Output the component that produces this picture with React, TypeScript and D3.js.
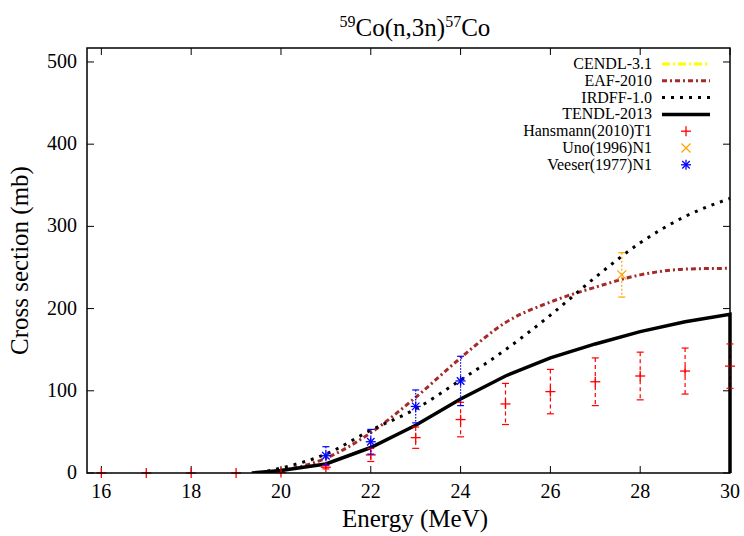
import { useEffect } from 'react';
import * as d3 from 'd3';

const WIDTH = 744;
const HEIGHT = 536;
const PLOT = { left: 87, right: 730, top: 48, bottom: 473 };

const xTicks = [16, 18, 20, 22, 24, 26, 28, 30];
const yTicks = [0, 100, 200, 300, 400, 500];

// evaluated libraries: [energy MeV, cross section mb]
const cendl: [number, number][] = [
  [19.35, 0], [19.6, 0.3], [19.8, 0.8], [20, 1.5],
];
const eaf: [number, number][] = [
  [19.4, 0], [20, 3], [21, 18], [22, 49], [23, 92], [24, 140], [25, 183],
  [26, 208], [27, 226], [28, 241], [29, 248], [30, 249],
];
const irdff: [number, number][] = [
  [19.5, 0], [20, 6], [21, 23], [22, 52], [23, 78], [24, 113], [25, 150],
  [26, 192], [27, 238], [28, 280], [29, 312], [30, 334],
];
const tendl: [number, number][] = [
  [19.35, 0], [20, 3], [21, 11], [22, 31], [23, 58], [24, 90], [25, 118],
  [26, 140], [27, 157], [28, 172], [29, 184], [30, 193], [30, 0],
];

// measurements
const hansE = [16, 17, 18, 19, 20, 21, 22, 23, 24, 25, 26, 27, 28, 29, 30];
const hansV = [0, 0, 0, 0, 0.5, 7, 22, 43, 65, 84, 99, 111, 118, 124, 130];
const hansErr = [0, 0, 0, 0, 0, 2, 8, 13, 21, 25, 27, 29, 29, 28, 27];

const unoE = [27.59];
const unoV = [241];
const unoErr = [27];

const veeserE = [21, 22, 23, 24];
const veeserV = [21, 38, 81, 112];
const veeserErr = [11, 15, 20, 30];

const legendNames = [
  'CENDL-3.1', 'EAF-2010', 'IRDFF-1.0', 'TENDL-2013',
  'Hansmann(2010)T1', 'Uno(1996)N1', 'Veeser(1977)N1',
];

const FONT = "'Liberation Serif', 'Times New Roman', Times, serif";

const x = d3.scaleLinear().domain([15.68, 30]).range([PLOT.left, PLOT.right]);
const y = d3.scaleLinear().domain([0, 517]).range([PLOT.bottom, PLOT.top]);

const line = d3
  .line<[number, number]>()
  .x((d) => x(d[0]))
  .y((d) => y(d[1]))
  .curve(d3.curveMonotoneX);

const straight = d3
  .line<[number, number]>()
  .x((d) => x(d[0]))
  .y((d) => y(d[1]));

const CURVES = [
  { name: 'CENDL-3.1', data: cendl, color: '#ffff00', width: 3, dash: '8,3,2,3' },
  { name: 'EAF-2010', data: eaf, color: '#a52a2a', width: 3, dash: '5,3,2,3' },
  { name: 'IRDFF-1.0', data: irdff, color: '#000000', width: 3, dash: '3,6' },
  { name: 'TENDL-2013', data: tendl, color: '#000000', width: 3.5, dash: '' },
];

function Plus({ cx, cy, r, color }: { cx: number; cy: number; r: number; color: string }) {
  return (
    <g stroke={color} strokeWidth={1.3}>
      <line x1={cx - r} x2={cx + r} y1={cy} y2={cy} />
      <line x1={cx} x2={cx} y1={cy - r} y2={cy + r} />
    </g>
  );
}

function Cross({ cx, cy, r, color }: { cx: number; cy: number; r: number; color: string }) {
  return (
    <g stroke={color} strokeWidth={1.3}>
      <line x1={cx - r} x2={cx + r} y1={cy - r} y2={cy + r} />
      <line x1={cx - r} x2={cx + r} y1={cy + r} y2={cy - r} />
    </g>
  );
}

function Star({ cx, cy, r, color }: { cx: number; cy: number; r: number; color: string }) {
  return (
    <g>
      <Plus cx={cx} cy={cy} r={r} color={color} />
      <Cross cx={cx} cy={cy} r={r * 0.75} color={color} />
    </g>
  );
}

function ErrorBar({ cx, v, e, color, dash }: { cx: number; v: number; e: number; color: string; dash: string }) {
  if (e <= 0) return null;
  const top = y(v + e);
  const bot = y(v - e);
  return (
    <g stroke={color} strokeWidth={1.2}>
      <line x1={cx} x2={cx} y1={top} y2={bot} strokeDasharray={dash} />
      <line x1={cx - 3.5} x2={cx + 3.5} y1={top} y2={top} />
      <line x1={cx - 3.5} x2={cx + 3.5} y1={bot} y2={bot} />
    </g>
  );
}

export default function App() {
  useEffect(() => {
    document.body.style.margin = '0';
  }, []);

  const legendX = 652;
  const legendY0 = 64;
  const legendDy = 16.8;
  const midX = 415;

  return (
    <svg width={WIDTH} height={HEIGHT} style={{ display: 'block', background: '#fff', fontFamily: FONT }}>
      <defs>
        <clipPath id="plotClip">
          <rect x={PLOT.left} y={PLOT.top} width={PLOT.right - PLOT.left + 2} height={PLOT.bottom - PLOT.top} />
        </clipPath>
      </defs>

      {/* title */}
      <text x={midX} y={36} textAnchor="middle" fontSize={25}>
        <tspan fontSize={16} dy={-9}>59</tspan>
        <tspan dy={9}>Co(n,3n)</tspan>
        <tspan fontSize={16} dy={-9}>57</tspan>
        <tspan dy={9}>Co</tspan>
      </text>

      {/* ticks */}
      <g stroke="#000" strokeWidth={1}>
        {xTicks.map((t) => (
          <g key={'xt' + t}>
            <line x1={x(t)} x2={x(t)} y1={PLOT.bottom} y2={PLOT.bottom - 7} />
            <line x1={x(t)} x2={x(t)} y1={PLOT.top} y2={PLOT.top + 7} />
          </g>
        ))}
        {yTicks.map((t) => (
          <g key={'yt' + t}>
            <line x1={PLOT.left} x2={PLOT.left + 7} y1={y(t)} y2={y(t)} />
            <line x1={PLOT.right} x2={PLOT.right - 7} y1={y(t)} y2={y(t)} />
          </g>
        ))}
      </g>
      <g fontSize={20}>
        {xTicks.map((t) => (
          <text key={'xl' + t} x={x(t)} y={498} textAnchor="middle">{t}</text>
        ))}
        {yTicks.map((t) => (
          <text key={'yl' + t} x={77} y={y(t) + 6} textAnchor="end">{t}</text>
        ))}
      </g>

      {/* axis titles */}
      <text x={midX} y={527} textAnchor="middle" fontSize={25}>Energy (MeV)</text>
      <text transform={`translate(28,${(PLOT.top + PLOT.bottom) / 2}) rotate(-90)`} textAnchor="middle" fontSize={25}>
        Cross section (mb)
      </text>

      {/* curves */}
      <g clipPath="url(#plotClip)" fill="none">
        {CURVES.map((c) => (
          <path
            key={c.name}
            d={(c.name === 'TENDL-2013' ? straight : line)(c.data) ?? ''}
            stroke={c.color}
            strokeWidth={c.width}
            strokeDasharray={c.dash}
          />
        ))}
      </g>

      {/* Hansmann */}
      <g>
        {hansE.map((e, i) => (
          <g key={'h' + i}>
            <ErrorBar cx={x(e)} v={hansV[i]} e={hansErr[i]} color="#ff0000" dash="4,3" />
            <Plus cx={x(e)} cy={y(hansV[i])} r={5} color="#ff0000" />
          </g>
        ))}
      </g>
      {/* Uno */}
      <g>
        {unoE.map((e, i) => (
          <g key={'u' + i}>
            <ErrorBar cx={x(e)} v={unoV[i]} e={unoErr[i]} color="#ffa500" dash="2,2" />
            <Cross cx={x(e)} cy={y(unoV[i])} r={4.5} color="#ffa500" />
          </g>
        ))}
      </g>
      {/* Veeser */}
      <g>
        {veeserE.map((e, i) => (
          <g key={'v' + i}>
            <ErrorBar cx={x(e)} v={veeserV[i]} e={veeserErr[i]} color="#0000ff" dash="1.5,1.5" />
            <Star cx={x(e)} cy={y(veeserV[i])} r={5} color="#0000ff" />
          </g>
        ))}
      </g>

      {/* frame */}
      <rect
        x={PLOT.left}
        y={PLOT.top}
        width={PLOT.right - PLOT.left}
        height={PLOT.bottom - PLOT.top}
        fill="none"
        stroke="#000"
        strokeWidth={1.5}
      />

      {/* legend */}
      <g fontSize={16}>
        {legendNames.map((n, i) => {
          const ly = legendY0 + i * legendDy;
          const c = CURVES[i];
          return (
            <g key={n}>
              <text x={legendX} y={ly + 5} textAnchor="end">{n}</text>
              {c && (
                <line x1={662} x2={710} y1={ly} y2={ly} stroke={c.color} strokeWidth={c.width} strokeDasharray={c.dash} />
              )}
              {i === 4 && <Plus cx={686} cy={ly} r={5} color="#ff0000" />}
              {i === 5 && <Cross cx={686} cy={ly} r={4.5} color="#ffa500" />}
              {i === 6 && <Star cx={686} cy={ly} r={5} color="#0000ff" />}
            </g>
          );
        })}
      </g>
    </svg>
  );
}
